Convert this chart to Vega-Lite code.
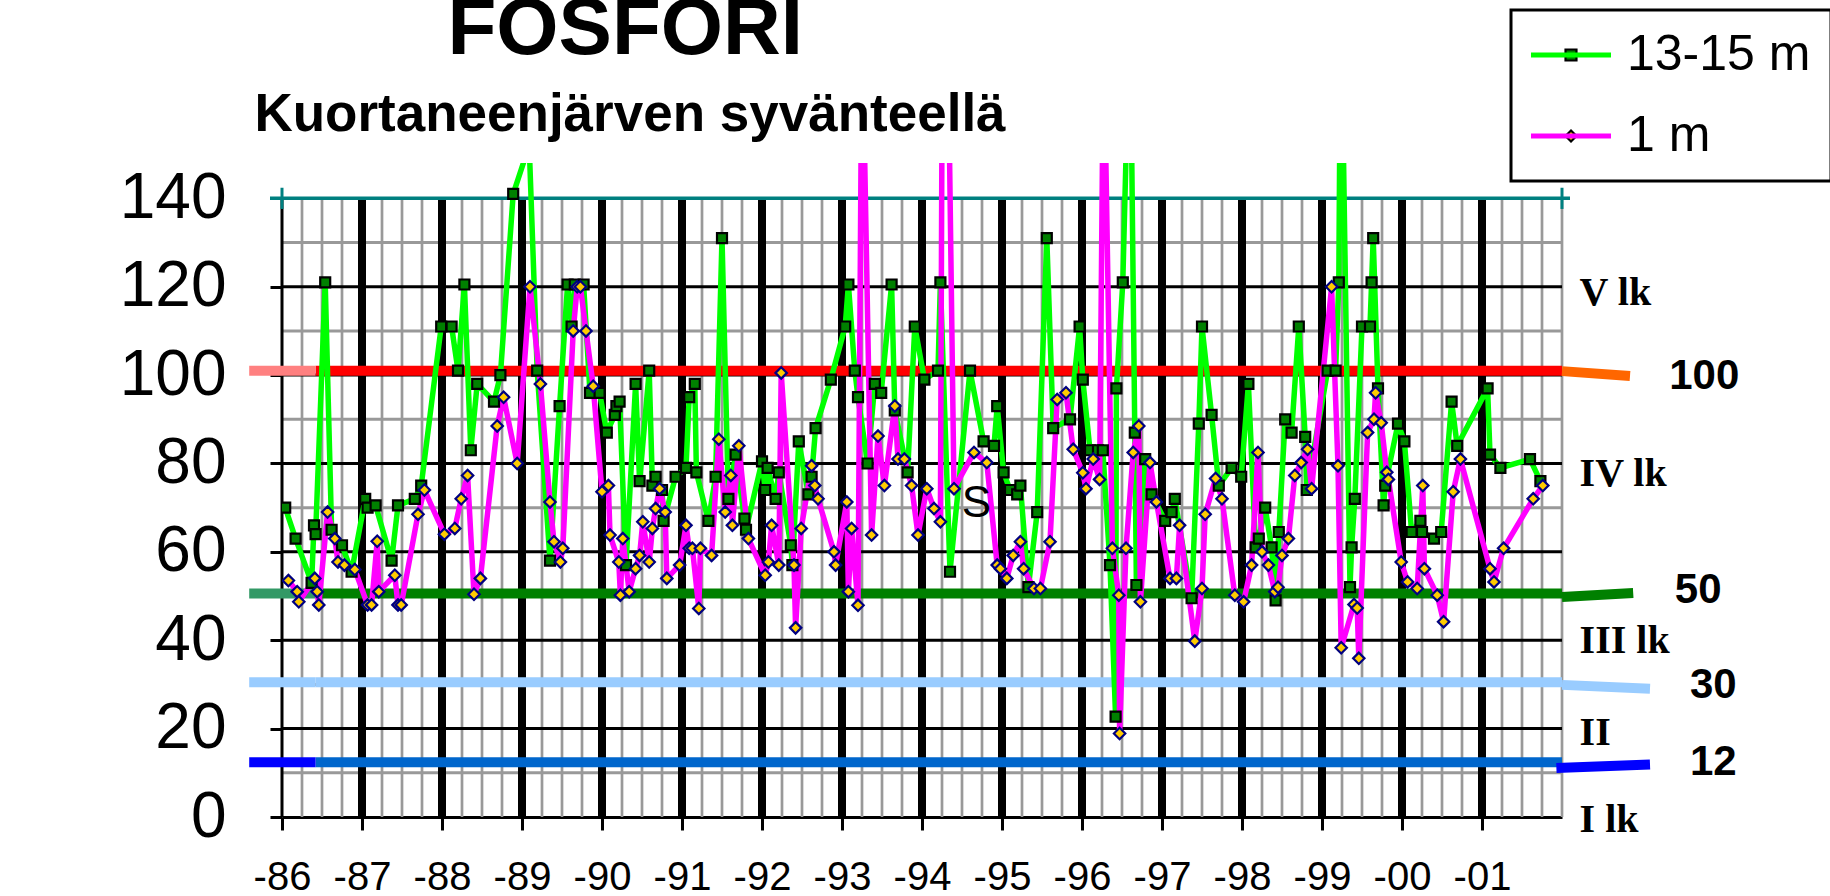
{
"$schema": "https://vega.github.io/schema/vega-lite/v6.json",
"autosize": "none",
"padding": {"left": 282, "top": 163, "right": 268, "bottom": 79},
"width": 1280,
"height": 654,
"background": "white",
"config": {"view": {"stroke": null}, "font": "Liberation Sans"},
"resolve": {"scale": {"stroke": "independent"}},
"datasets": {
"vq": [{"x":1986.25},{"x":1986.5},{"x":1986.75},{"x":1987.25},{"x":1987.5},{"x":1987.75},{"x":1988.25},{"x":1988.5},{"x":1988.75},{"x":1989.25},{"x":1989.5},{"x":1989.75},{"x":1990.25},{"x":1990.5},{"x":1990.75},{"x":1991.25},{"x":1991.5},{"x":1991.75},{"x":1992.25},{"x":1992.5},{"x":1992.75},{"x":1993.25},{"x":1993.5},{"x":1993.75},{"x":1994.25},{"x":1994.5},{"x":1994.75},{"x":1995.25},{"x":1995.5},{"x":1995.75},{"x":1996.25},{"x":1996.5},{"x":1996.75},{"x":1997.25},{"x":1997.5},{"x":1997.75},{"x":1998.25},{"x":1998.5},{"x":1998.75},{"x":1999.25},{"x":1999.5},{"x":1999.75},{"x":2000.25},{"x":2000.5},{"x":2000.75},{"x":2001.25},{"x":2001.5},{"x":2001.75},{"x":2002}],
"vy": [{"x":1987},{"x":1988},{"x":1989},{"x":1990},{"x":1991},{"x":1992},{"x":1993},{"x":1994},{"x":1995},{"x":1996},{"x":1997},{"x":1998},{"x":1999},{"x":2000},{"x":2001}],
"hg": [{"y":10},{"y":30},{"y":50},{"y":70},{"y":90},{"y":110},{"y":130}],
"hb": [{"y":20},{"y":40},{"y":60},{"y":80},{"y":100},{"y":120}],
"thr": [
{"seg":"r","x":1986.42,"x2":2002,"y":101,"y2":101},
{"seg":"rs","x":1985.59,"x2":1986.42,"y":101,"y2":101},
{"seg":"re","x":2002,"x2":2002.85,"y":100.9,"y2":99.8},
{"seg":"g","x":1986.42,"x2":2002,"y":50.6,"y2":50.6},
{"seg":"gs","x":1985.59,"x2":1986.42,"y":50.6,"y2":50.6},
{"seg":"ge","x":2002,"x2":2002.89,"y":49.8,"y2":50.7},
{"seg":"l","x":1986.42,"x2":2002,"y":30.5,"y2":30.5},
{"seg":"ls","x":1985.59,"x2":1986.42,"y":30.5,"y2":30.5},
{"seg":"le","x":2002,"x2":2003.1,"y":29.9,"y2":29.0},
{"seg":"b","x":1986.42,"x2":2002,"y":12.4,"y2":12.4},
{"seg":"bs","x":1985.59,"x2":1986.42,"y":12.4,"y2":12.4},
{"seg":"be","x":2001.93,"x2":2003.1,"y":11.1,"y2":11.9}],
"lk": [{"t":"V lk","x":2002.22,"y":115.8},{"t":"IV lk","x":2002.22,"y":74.9},{"t":"III lk","x":2002.22,"y":37.1},{"t":"II","x":2002.22,"y":16.3},{"t":"I lk","x":2002.22,"y":-3.3}],
"num": [{"t":"100","x":2003.34,"y":96.9},{"t":"50","x":2003.41,"y":48.5},{"t":"30","x":2003.6,"y":26.9},{"t":"12","x":2003.6,"y":9.5}],
"obs": [
{"s":"13-15 m","x":1986.04,"y":70},{"s":"13-15 m","x":1986.17,"y":63},{"s":"13-15 m","x":1986.37,"y":53},{"s":"13-15 m","x":1986.40,"y":66},{"s":"13-15 m","x":1986.42,"y":64},{"s":"13-15 m","x":1986.54,"y":121},{"s":"13-15 m","x":1986.62,"y":65},{"s":"13-15 m","x":1986.75,"y":61.5},{"s":"13-15 m","x":1986.87,"y":55.5},{"s":"13-15 m","x":1987.04,"y":72},{"s":"13-15 m","x":1987.07,"y":70},{"s":"13-15 m","x":1987.17,"y":70.5},{"s":"13-15 m","x":1987.37,"y":58},{"s":"13-15 m","x":1987.45,"y":70.5},{"s":"13-15 m","x":1987.66,"y":72},{"s":"13-15 m","x":1987.74,"y":75},{"s":"13-15 m","x":1987.99,"y":111},{"s":"13-15 m","x":1988.12,"y":111},{"s":"13-15 m","x":1988.20,"y":101},{"s":"13-15 m","x":1988.28,"y":120.5},{"s":"13-15 m","x":1988.36,"y":83},{"s":"13-15 m","x":1988.44,"y":98},{"s":"13-15 m","x":1988.65,"y":94},{"s":"13-15 m","x":1988.73,"y":100},{"s":"13-15 m","x":1988.89,"y":141},{"s":"13-15 m","x":1989.09,"y":152},{"s":"13-15 m","x":1989.19,"y":101},{"s":"13-15 m","x":1989.35,"y":58},{"s":"13-15 m","x":1989.47,"y":93},{"s":"13-15 m","x":1989.57,"y":120.5},{"s":"13-15 m","x":1989.62,"y":111},{"s":"13-15 m","x":1989.66,"y":120.5},{"s":"13-15 m","x":1989.77,"y":120.5},{"s":"13-15 m","x":1989.85,"y":96},{"s":"13-15 m","x":1989.97,"y":96},{"s":"13-15 m","x":1990.06,"y":87},{"s":"13-15 m","x":1990.16,"y":91},{"s":"13-15 m","x":1990.18,"y":93},{"s":"13-15 m","x":1990.22,"y":94},{"s":"13-15 m","x":1990.30,"y":57},{"s":"13-15 m","x":1990.42,"y":98},{"s":"13-15 m","x":1990.47,"y":76},{"s":"13-15 m","x":1990.59,"y":101},{"s":"13-15 m","x":1990.63,"y":75},{"s":"13-15 m","x":1990.67,"y":77},{"s":"13-15 m","x":1990.75,"y":74},{"s":"13-15 m","x":1990.77,"y":67},{"s":"13-15 m","x":1990.92,"y":77},{"s":"13-15 m","x":1991.05,"y":79},{"s":"13-15 m","x":1991.09,"y":95},{"s":"13-15 m","x":1991.16,"y":98},{"s":"13-15 m","x":1991.18,"y":78},{"s":"13-15 m","x":1991.33,"y":67},{"s":"13-15 m","x":1991.42,"y":77},{"s":"13-15 m","x":1991.50,"y":131},{"s":"13-15 m","x":1991.58,"y":72},{"s":"13-15 m","x":1991.67,"y":82},{"s":"13-15 m","x":1991.78,"y":67.5},{"s":"13-15 m","x":1991.80,"y":65},{"s":"13-15 m","x":1992.00,"y":80.5},{"s":"13-15 m","x":1992.04,"y":74},{"s":"13-15 m","x":1992.07,"y":79},{"s":"13-15 m","x":1992.17,"y":72},{"s":"13-15 m","x":1992.21,"y":78},{"s":"13-15 m","x":1992.36,"y":61.5},{"s":"13-15 m","x":1992.38,"y":57},{"s":"13-15 m","x":1992.46,"y":85},{"s":"13-15 m","x":1992.58,"y":73},{"s":"13-15 m","x":1992.62,"y":77},{"s":"13-15 m","x":1992.67,"y":88},{"s":"13-15 m","x":1992.86,"y":99},{"s":"13-15 m","x":1993.04,"y":111},{"s":"13-15 m","x":1993.08,"y":120.5},{"s":"13-15 m","x":1993.16,"y":101},{"s":"13-15 m","x":1993.20,"y":95},{"s":"13-15 m","x":1993.32,"y":80},{"s":"13-15 m","x":1993.41,"y":98},{"s":"13-15 m","x":1993.49,"y":96},{"s":"13-15 m","x":1993.62,"y":120.5},{"s":"13-15 m","x":1993.66,"y":92},{"s":"13-15 m","x":1993.82,"y":78},{"s":"13-15 m","x":1993.91,"y":111},{"s":"13-15 m","x":1994.03,"y":99},{"s":"13-15 m","x":1994.20,"y":101},{"s":"13-15 m","x":1994.23,"y":121},{"s":"13-15 m","x":1994.35,"y":55.5},{"s":"13-15 m","x":1994.60,"y":101},{"s":"13-15 m","x":1994.77,"y":85},{"s":"13-15 m","x":1994.90,"y":84},{"s":"13-15 m","x":1994.94,"y":93},{"s":"13-15 m","x":1995.02,"y":78},{"s":"13-15 m","x":1995.10,"y":74},{"s":"13-15 m","x":1995.19,"y":73},{"s":"13-15 m","x":1995.23,"y":75},{"s":"13-15 m","x":1995.33,"y":52},{"s":"13-15 m","x":1995.44,"y":69},{"s":"13-15 m","x":1995.56,"y":131},{"s":"13-15 m","x":1995.64,"y":88},{"s":"13-15 m","x":1995.85,"y":90},{"s":"13-15 m","x":1995.97,"y":111},{"s":"13-15 m","x":1996.01,"y":99},{"s":"13-15 m","x":1996.10,"y":83},{"s":"13-15 m","x":1996.20,"y":83},{"s":"13-15 m","x":1996.26,"y":83},{"s":"13-15 m","x":1996.35,"y":57},{"s":"13-15 m","x":1996.42,"y":22.7},{"s":"13-15 m","x":1996.43,"y":97},{"s":"13-15 m","x":1996.51,"y":121},{"s":"13-15 m","x":1996.60,"y":185},{"s":"13-15 m","x":1996.66,"y":87},{"s":"13-15 m","x":1996.68,"y":52.5},{"s":"13-15 m","x":1996.79,"y":81},{"s":"13-15 m","x":1996.87,"y":73},{"s":"13-15 m","x":1997.04,"y":67},{"s":"13-15 m","x":1997.12,"y":69},{"s":"13-15 m","x":1997.16,"y":72},{"s":"13-15 m","x":1997.37,"y":49.5},{"s":"13-15 m","x":1997.46,"y":89},{"s":"13-15 m","x":1997.50,"y":111},{"s":"13-15 m","x":1997.62,"y":91},{"s":"13-15 m","x":1997.71,"y":75},{"s":"13-15 m","x":1997.87,"y":79},{"s":"13-15 m","x":1997.99,"y":77},{"s":"13-15 m","x":1998.08,"y":98},{"s":"13-15 m","x":1998.17,"y":61},{"s":"13-15 m","x":1998.21,"y":63},{"s":"13-15 m","x":1998.29,"y":70},{"s":"13-15 m","x":1998.37,"y":61},{"s":"13-15 m","x":1998.42,"y":49},{"s":"13-15 m","x":1998.46,"y":64.5},{"s":"13-15 m","x":1998.54,"y":90},{"s":"13-15 m","x":1998.62,"y":87},{"s":"13-15 m","x":1998.71,"y":111},{"s":"13-15 m","x":1998.79,"y":86},{"s":"13-15 m","x":1998.81,"y":74},{"s":"13-15 m","x":1999.07,"y":101},{"s":"13-15 m","x":1999.17,"y":101},{"s":"13-15 m","x":1999.21,"y":121},{"s":"13-15 m","x":1999.235,"y":190},{"s":"13-15 m","x":1999.35,"y":52},{"s":"13-15 m","x":1999.37,"y":61},{"s":"13-15 m","x":1999.41,"y":72},{"s":"13-15 m","x":1999.50,"y":111},{"s":"13-15 m","x":1999.60,"y":111},{"s":"13-15 m","x":1999.62,"y":121},{"s":"13-15 m","x":1999.64,"y":131},{"s":"13-15 m","x":1999.70,"y":97},{"s":"13-15 m","x":1999.77,"y":70.5},{"s":"13-15 m","x":1999.79,"y":75},{"s":"13-15 m","x":1999.95,"y":89},{"s":"13-15 m","x":2000.03,"y":85},{"s":"13-15 m","x":2000.12,"y":64.5},{"s":"13-15 m","x":2000.23,"y":67},{"s":"13-15 m","x":2000.25,"y":64.5},{"s":"13-15 m","x":2000.40,"y":63},{"s":"13-15 m","x":2000.49,"y":64.5},{"s":"13-15 m","x":2000.62,"y":94},{"s":"13-15 m","x":2000.69,"y":84},{"s":"13-15 m","x":2001.07,"y":97},{"s":"13-15 m","x":2001.10,"y":82},{"s":"13-15 m","x":2001.23,"y":79},{"s":"13-15 m","x":2001.60,"y":81},{"s":"13-15 m","x":2001.73,"y":76},
{"s":"1 m","x":1986.08,"y":53.5},{"s":"1 m","x":1986.19,"y":51},{"s":"1 m","x":1986.21,"y":48.7},{"s":"1 m","x":1986.41,"y":54},{"s":"1 m","x":1986.44,"y":51},{"s":"1 m","x":1986.46,"y":48},{"s":"1 m","x":1986.57,"y":69},{"s":"1 m","x":1986.66,"y":63},{"s":"1 m","x":1986.70,"y":57.7},{"s":"1 m","x":1986.78,"y":57},{"s":"1 m","x":1986.91,"y":56},{"s":"1 m","x":1987.07,"y":48},{"s":"1 m","x":1987.12,"y":48},{"s":"1 m","x":1987.19,"y":62.4},{"s":"1 m","x":1987.21,"y":51},{"s":"1 m","x":1987.41,"y":54.7},{"s":"1 m","x":1987.45,"y":48},{"s":"1 m","x":1987.49,"y":48},{"s":"1 m","x":1987.70,"y":68.5},{"s":"1 m","x":1987.78,"y":74},{"s":"1 m","x":1988.03,"y":64},{"s":"1 m","x":1988.16,"y":65.3},{"s":"1 m","x":1988.24,"y":72},{"s":"1 m","x":1988.32,"y":77.3},{"s":"1 m","x":1988.40,"y":50.4},{"s":"1 m","x":1988.48,"y":54},{"s":"1 m","x":1988.69,"y":88.5},{"s":"1 m","x":1988.77,"y":95},{"s":"1 m","x":1988.94,"y":80},{"s":"1 m","x":1989.10,"y":120},{"s":"1 m","x":1989.23,"y":98},{"s":"1 m","x":1989.35,"y":71.3},{"s":"1 m","x":1989.40,"y":62.3},{"s":"1 m","x":1989.48,"y":57.7},{"s":"1 m","x":1989.51,"y":60.8},{"s":"1 m","x":1989.64,"y":110},{"s":"1 m","x":1989.69,"y":120},{"s":"1 m","x":1989.73,"y":120},{"s":"1 m","x":1989.80,"y":110},{"s":"1 m","x":1989.89,"y":97.5},{"s":"1 m","x":1990.00,"y":73.6},{"s":"1 m","x":1990.08,"y":75},{"s":"1 m","x":1990.10,"y":63.8},{"s":"1 m","x":1990.21,"y":57.7},{"s":"1 m","x":1990.23,"y":50.2},{"s":"1 m","x":1990.26,"y":63},{"s":"1 m","x":1990.34,"y":51},{"s":"1 m","x":1990.42,"y":56.2},{"s":"1 m","x":1990.47,"y":59.2},{"s":"1 m","x":1990.51,"y":66.8},{"s":"1 m","x":1990.59,"y":57.7},{"s":"1 m","x":1990.63,"y":65.3},{"s":"1 m","x":1990.67,"y":69.8},{"s":"1 m","x":1990.72,"y":74.3},{"s":"1 m","x":1990.79,"y":69},{"s":"1 m","x":1990.81,"y":54},{"s":"1 m","x":1990.97,"y":57},{"s":"1 m","x":1991.05,"y":66},{"s":"1 m","x":1991.09,"y":60.8},{"s":"1 m","x":1991.13,"y":60.8},{"s":"1 m","x":1991.21,"y":47.2},{"s":"1 m","x":1991.23,"y":60.8},{"s":"1 m","x":1991.37,"y":59.2},{"s":"1 m","x":1991.46,"y":85.5},{"s":"1 m","x":1991.54,"y":69},{"s":"1 m","x":1991.61,"y":77.3},{"s":"1 m","x":1991.63,"y":66},{"s":"1 m","x":1991.71,"y":84},{"s":"1 m","x":1991.83,"y":63},{"s":"1 m","x":1992.04,"y":54.7},{"s":"1 m","x":1992.08,"y":57.7},{"s":"1 m","x":1992.12,"y":66},{"s":"1 m","x":1992.21,"y":57},{"s":"1 m","x":1992.24,"y":100.5},{"s":"1 m","x":1992.40,"y":57},{"s":"1 m","x":1992.42,"y":42.8},{"s":"1 m","x":1992.49,"y":65.3},{"s":"1 m","x":1992.62,"y":79.5},{"s":"1 m","x":1992.66,"y":75},{"s":"1 m","x":1992.70,"y":72},{"s":"1 m","x":1992.90,"y":60},{"s":"1 m","x":1992.92,"y":57},{"s":"1 m","x":1993.06,"y":71.3},{"s":"1 m","x":1993.08,"y":51},{"s":"1 m","x":1993.12,"y":65.3},{"s":"1 m","x":1993.20,"y":47.9},{"s":"1 m","x":1993.25,"y":182},{"s":"1 m","x":1993.37,"y":63.8},{"s":"1 m","x":1993.45,"y":86.2},{"s":"1 m","x":1993.53,"y":75},{"s":"1 m","x":1993.66,"y":93},{"s":"1 m","x":1993.70,"y":81},{"s":"1 m","x":1993.78,"y":81},{"s":"1 m","x":1993.87,"y":75},{"s":"1 m","x":1993.95,"y":63.8},{"s":"1 m","x":1994.06,"y":74.3},{"s":"1 m","x":1994.15,"y":69.8},{"s":"1 m","x":1994.23,"y":66.8},{"s":"1 m","x":1994.27,"y":250},{"s":"1 m","x":1994.40,"y":74.3},{"s":"1 m","x":1994.65,"y":82.5},{"s":"1 m","x":1994.81,"y":80.2},{"s":"1 m","x":1994.94,"y":57},{"s":"1 m","x":1994.98,"y":56.2},{"s":"1 m","x":1995.06,"y":54},{"s":"1 m","x":1995.14,"y":59.2},{"s":"1 m","x":1995.23,"y":62.3},{"s":"1 m","x":1995.27,"y":56.2},{"s":"1 m","x":1995.40,"y":51.7},{"s":"1 m","x":1995.48,"y":51.7},{"s":"1 m","x":1995.60,"y":62.3},{"s":"1 m","x":1995.69,"y":94.5},{"s":"1 m","x":1995.80,"y":96},{"s":"1 m","x":1995.89,"y":83.2},{"s":"1 m","x":1996.01,"y":77.9},{"s":"1 m","x":1996.05,"y":74.3},{"s":"1 m","x":1996.14,"y":81},{"s":"1 m","x":1996.22,"y":76.4},{"s":"1 m","x":1996.27,"y":179},{"s":"1 m","x":1996.38,"y":60.8},{"s":"1 m","x":1996.46,"y":50.2},{"s":"1 m","x":1996.47,"y":18.9},{"s":"1 m","x":1996.55,"y":60.8},{"s":"1 m","x":1996.64,"y":82.5},{"s":"1 m","x":1996.71,"y":88.5},{"s":"1 m","x":1996.73,"y":48.7},{"s":"1 m","x":1996.85,"y":80.2},{"s":"1 m","x":1996.93,"y":71.3},{"s":"1 m","x":1997.10,"y":54},{"s":"1 m","x":1997.18,"y":54},{"s":"1 m","x":1997.22,"y":66},{"s":"1 m","x":1997.41,"y":39.8},{"s":"1 m","x":1997.50,"y":51.7},{"s":"1 m","x":1997.54,"y":68.5},{"s":"1 m","x":1997.67,"y":76.6},{"s":"1 m","x":1997.75,"y":72},{"s":"1 m","x":1997.91,"y":50.2},{"s":"1 m","x":1998.02,"y":48.7},{"s":"1 m","x":1998.12,"y":57},{"s":"1 m","x":1998.20,"y":82.5},{"s":"1 m","x":1998.25,"y":60},{"s":"1 m","x":1998.33,"y":57},{"s":"1 m","x":1998.41,"y":51},{"s":"1 m","x":1998.45,"y":52},{"s":"1 m","x":1998.50,"y":59.2},{"s":"1 m","x":1998.58,"y":63},{"s":"1 m","x":1998.66,"y":77.3},{"s":"1 m","x":1998.74,"y":80.2},{"s":"1 m","x":1998.82,"y":83.2},{"s":"1 m","x":1998.87,"y":74.3},{"s":"1 m","x":1999.12,"y":120},{"s":"1 m","x":1999.20,"y":79.5},{"s":"1 m","x":1999.24,"y":38.3},{"s":"1 m","x":1999.40,"y":48.1},{"s":"1 m","x":1999.44,"y":47.3},{"s":"1 m","x":1999.46,"y":35.9},{"s":"1 m","x":1999.57,"y":87},{"s":"1 m","x":1999.65,"y":90},{"s":"1 m","x":1999.67,"y":96},{"s":"1 m","x":1999.74,"y":89.2},{"s":"1 m","x":1999.81,"y":78},{"s":"1 m","x":1999.83,"y":76.4},{"s":"1 m","x":1999.99,"y":57.7},{"s":"1 m","x":2000.07,"y":53.2},{"s":"1 m","x":2000.19,"y":51.7},{"s":"1 m","x":2000.26,"y":75},{"s":"1 m","x":2000.28,"y":56.2},{"s":"1 m","x":2000.44,"y":50.2},{"s":"1 m","x":2000.52,"y":44.2},{"s":"1 m","x":2000.64,"y":73.6},{"s":"1 m","x":2000.73,"y":81},{"s":"1 m","x":2001.10,"y":56.2},{"s":"1 m","x":2001.15,"y":53.2},{"s":"1 m","x":2001.27,"y":60.8},{"s":"1 m","x":2001.64,"y":72},{"s":"1 m","x":2001.76,"y":75}
]
},
"layer": [
{"data": {"name": "vq"}, "mark": {"type": "rule", "color": "#999999", "strokeWidth": 2.7},
 "encoding": {"x": {"field": "x", "type": "quantitative", "title": null, "scale": {"domain": [1986, 2002], "nice": false, "zero": false}}, "y": {"datum": 0, "title": null, "scale": {"domain": [0, 148], "nice": false, "zero": false}}, "y2": {"datum": 140}}},
{"data": {"name": "hg"}, "mark": {"type": "rule", "color": "#999999", "strokeWidth": 3},
 "encoding": {"y": {"field": "y", "type": "quantitative", "title": null}, "x": {"datum": 1986, "title": null}, "x2": {"datum": 2002}}},
{"data": {"name": "hb"}, "mark": {"type": "rule", "color": "#000000", "strokeWidth": 3},
 "encoding": {"y": {"field": "y", "type": "quantitative", "title": null}, "x": {"datum": 1986, "title": null}, "x2": {"datum": 2002}}},
{"data": {"name": "vy"}, "mark": {"type": "rule", "color": "#000000", "strokeWidth": 8},
 "encoding": {"x": {"field": "x", "type": "quantitative", "title": null}, "y": {"datum": 0, "title": null}, "y2": {"datum": 140}}},
{"data": {"values": [{"x": 1986}]}, "mark": {"type": "rule", "color": "#000000", "strokeWidth": 3},
 "encoding": {"x": {"field": "x", "type": "quantitative", "title": null}, "y": {"datum": 0, "title": null}, "y2": {"datum": 140}}},
{"data": {"values": [{"y": 140}]}, "mark": {"type": "rule", "color": "#008080", "strokeWidth": 3.5},
 "encoding": {"y": {"field": "y", "type": "quantitative", "title": null}, "x": {"datum": 1985.85, "title": null}, "x2": {"datum": 2002.1}}},
{"data": {"values": [{"x": 1986}, {"x": 2002}]}, "mark": {"type": "rule", "color": "#008080", "strokeWidth": 3},
 "encoding": {"x": {"field": "x", "type": "quantitative", "title": null}, "y": {"datum": 137.6, "title": null}, "y2": {"datum": 142.4}}},
{"data": {"name": "thr"}, "mark": {"type": "rule", "strokeWidth": 10},
 "encoding": {"x": {"field": "x", "type": "quantitative", "title": null}, "y": {"field": "y", "type": "quantitative", "title": null}, "x2": {"field": "x2"}, "y2": {"field": "y2"},
  "color": {"field": "seg", "type": "nominal", "legend": null, "scale": {"domain": ["r","rs","re","g","gs","ge","l","ls","le","b","bs","be"], "range": ["#FF0000","#FF8080","#FF6600","#008000","#339966","#008000","#99CCFF","#99CCFF","#99CCFF","#0066CC","#0000FF","#0000FF"]}}}},
{"data": {"name": "obs"}, "mark": {"type": "line", "clip": true, "strokeWidth": 5.5, "strokeJoin": "round"},
 "encoding": {
  "x": {"field": "x", "type": "quantitative", "scale": {"domain": [1986, 2002], "nice": false, "zero": false},
   "axis": {"title": null, "values": [1986,1987,1988,1989,1990,1991,1992,1993,1994,1995,1996,1997,1998,1999,2000,2001], "labelExpr": "'-' + slice(toString(datum.value), 2)", "labelFont": "Liberation Sans", "labelFontSize": 40, "labelColor": "black", "labelPadding": 27, "tickSize": 13, "tickWidth": 3, "tickColor": "black", "domain": true, "domainColor": "black", "domainWidth": 3, "grid": false, "labelFlush": false, "labelOverlap": false}},
  "y": {"field": "y", "type": "quantitative", "scale": {"domain": [0, 148], "nice": false, "zero": false},
   "axis": {"title": "µg/l", "titleFont": "Liberation Sans", "titleFontSize": 70, "titleFontWeight": "bold", "titleColor": "black", "titlePadding": 36, "values": [0,20,40,60,80,100,120,140], "labelFont": "Liberation Sans", "labelFontSize": 64, "labelColor": "black", "labelPadding": 44, "tickSize": 12, "tickWidth": 3, "tickColor": "black", "domain": false, "grid": false, "labelFlush": false, "labelOverlap": false}},
  "stroke": {"field": "s", "type": "nominal", "scale": {"domain": ["13-15 m", "1 m"], "range": ["#00FF00", "#FF00FF"]},
   "legend": {"orient": "none", "legendX": 1229, "legendY": -153, "title": null, "symbolType": "M-8,0L8,0", "symbolSize": 100, "symbolStrokeWidth": 5, "symbolOffset": 15, "labelFont": "Liberation Sans", "labelFontSize": 50, "labelColor": "black", "labelOffset": 31, "labelLimit": 400, "padding": 20, "rowPadding": 31, "strokeColor": "black", "encode": {"legend": {"update": {"stroke": {"value": "black"}, "strokeWidth": {"value": 3}}}}}}}},
{"data": {"name": "obs"}, "transform": [{"filter": "datum.s === '13-15 m'"}], "mark": {"type": "point", "clip": true, "filled": true, "size": 100, "stroke": "#000000", "strokeWidth": 2.2, "opacity": 1},
 "encoding": {
  "x": {"field": "x", "type": "quantitative", "title": null},
  "y": {"field": "y", "type": "quantitative", "title": null},
  "shape": {"field": "s", "type": "nominal", "scale": {"domain": ["13-15 m", "1 m"], "range": ["square", "diamond"]}, "legend": {"orient": "none", "legendX": 1229, "legendY": -153, "title": null, "symbolOffset": 15, "symbolSize": 120, "labelFontSize": 50, "labelOpacity": 0, "labelOffset": 31, "labelLimit": 400, "padding": 20, "rowPadding": 31, "symbolStrokeWidth": 2.2, "encode": {"symbols": {"update": {"stroke": {"signal": "datum.value === '1 m' ? '#000080' : '#000000'"}, "strokeWidth": {"value": 2.2}}}}}},
  "fill": {"field": "s", "type": "nominal", "scale": {"domain": ["13-15 m", "1 m"], "range": ["#008000", "#FFCC00"]}, "legend": {"orient": "none", "legendX": 1229, "legendY": -153, "title": null, "symbolOffset": 15, "symbolSize": 120, "labelFontSize": 50, "labelOpacity": 0, "labelOffset": 31, "labelLimit": 400, "padding": 20, "rowPadding": 31, "symbolStrokeWidth": 2.2, "encode": {"symbols": {"update": {"stroke": {"signal": "datum.value === '1 m' ? '#000080' : '#000000'"}, "strokeWidth": {"value": 2.2}}}}}}}},
{"data": {"name": "obs"}, "transform": [{"filter": "datum.s === '1 m'"}], "mark": {"type": "point", "clip": true, "filled": true, "size": 130, "stroke": "#000080", "strokeWidth": 2.2, "opacity": 1},
 "encoding": {
  "x": {"field": "x", "type": "quantitative", "title": null},
  "y": {"field": "y", "type": "quantitative", "title": null},
  "shape": {"field": "s", "type": "nominal"},
  "fill": {"field": "s", "type": "nominal"}}},
{"data": {"name": "lk"}, "mark": {"type": "text", "font": "Liberation Serif", "fontWeight": "bold", "fontSize": 40, "align": "left", "baseline": "alphabetic", "color": "black"},
 "encoding": {"x": {"field": "x", "type": "quantitative", "title": null}, "y": {"field": "y", "type": "quantitative", "title": null}, "text": {"field": "t"}}},
{"data": {"name": "num"}, "mark": {"type": "text", "font": "Liberation Sans", "fontWeight": "bold", "fontSize": 42, "align": "left", "baseline": "alphabetic", "color": "black"},
 "encoding": {"x": {"field": "x", "type": "quantitative", "title": null}, "y": {"field": "y", "type": "quantitative", "title": null}, "text": {"field": "t"}}},
{"data": {"values": [{"t": "S"}]}, "mark": {"type": "text", "font": "Liberation Sans", "fontSize": 44, "align": "center", "baseline": "alphabetic", "color": "black"},
 "encoding": {"x": {"datum": 1994.68, "title": null}, "y": {"datum": 67.9, "title": null}, "text": {"field": "t"}}},
{"data": {"values": [{"t": "FOSFORI"}]}, "mark": {"type": "text", "font": "Liberation Sans", "fontWeight": "bold", "fontSize": 80, "align": "center", "baseline": "alphabetic", "color": "black"},
 "encoding": {"x": {"datum": 1990.29, "title": null}, "y": {"datum": 172.67, "title": null}, "text": {"field": "t"}}},
{"data": {"values": [{"t": "Kuortaneenjärven syvänteellä"}]}, "mark": {"type": "text", "font": "Liberation Sans", "fontWeight": "bold", "fontSize": 53, "align": "center", "baseline": "alphabetic", "color": "black"},
 "encoding": {"x": {"datum": 1990.35, "title": null}, "y": {"datum": 155.24, "title": null}, "text": {"field": "t"}}}
]
}
